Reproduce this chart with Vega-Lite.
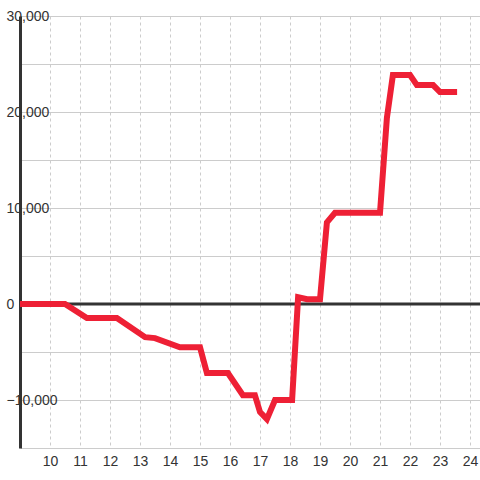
{
  "$schema": "https://vega.github.io/schema/vega-lite/v6.json",
  "width": 460,
  "height": 432,
  "autosize": "none",
  "padding": {"left": 20, "top": 16, "right": 0, "bottom": 32},
  "background": "#ffffff",
  "config": {"view": {"stroke": null}, "font": "Liberation Sans"},
  "layer": [
    {
      "data": {"values": [{"v": 0}]},
      "mark": {"type": "rule", "color": "#333333", "strokeWidth": 3},
      "encoding": {
        "y": {
          "field": "v", "type": "quantitative",
          "scale": {"domain": [-15000, 30000], "nice": false, "zero": false},
          "axis": {
            "title": null,
            "values": [-15000, -10000, -5000, 0, 5000, 10000, 15000, 20000, 25000, 30000],
            "labelExpr": "datum.value % 10000 === 0 ? datum.label : ''",
            "grid": true, "gridColor": "#cccccc", "gridWidth": 1,
            "domain": true, "domainColor": "#333333", "domainWidth": 3,
            "ticks": false, "tickSize": 0,
            "labelAlign": "left", "labelPadding": 14, "labelBaseline": "middle",
            "labelFontSize": 14, "labelColor": "#333333", "labelFont": "Liberation Sans"
          }
        }
      }
    },
    {
      "data": {"values": [
        {"t": 9.0, "v": 0},
        {"t": 10.5, "v": 0},
        {"t": 11.23, "v": -1450},
        {"t": 12.23, "v": -1450},
        {"t": 13.17, "v": -3450},
        {"t": 13.5, "v": -3550},
        {"t": 14.33, "v": -4500},
        {"t": 15.0, "v": -4500},
        {"t": 15.23, "v": -7200},
        {"t": 15.93, "v": -7200},
        {"t": 16.43, "v": -9500},
        {"t": 16.83, "v": -9500},
        {"t": 17.0, "v": -11250},
        {"t": 17.23, "v": -12000},
        {"t": 17.5, "v": -10000},
        {"t": 18.07, "v": -10000},
        {"t": 18.27, "v": 700},
        {"t": 18.57, "v": 500},
        {"t": 19.0, "v": 500},
        {"t": 19.23, "v": 8500},
        {"t": 19.5, "v": 9500},
        {"t": 21.0, "v": 9500},
        {"t": 21.23, "v": 19400},
        {"t": 21.43, "v": 23850},
        {"t": 22.0, "v": 23850},
        {"t": 22.23, "v": 22800},
        {"t": 22.77, "v": 22800},
        {"t": 23.0, "v": 22080},
        {"t": 23.57, "v": 22080}
      ]},
      "mark": {"type": "line", "color": "#ee2035", "strokeWidth": 6, "strokeJoin": "miter", "strokeCap": "butt"},
      "encoding": {
        "x": {
          "field": "t", "type": "quantitative",
          "scale": {"domain": [9, 24.3333], "nice": false, "zero": false},
          "axis": {
            "title": null,
            "values": [10, 11, 12, 13, 14, 15, 16, 17, 18, 19, 20, 21, 22, 23, 24],
            "grid": true, "gridColor": "#cccccc", "gridDash": [3, 3], "gridWidth": 1,
            "domain": false, "ticks": false, "tickSize": 0,
            "labelPadding": 6, "labelFontSize": 14, "labelColor": "#333333", "labelFont": "Liberation Sans"
          }
        },
        "y": {"field": "v", "type": "quantitative"}
      }
    }
  ]
}
